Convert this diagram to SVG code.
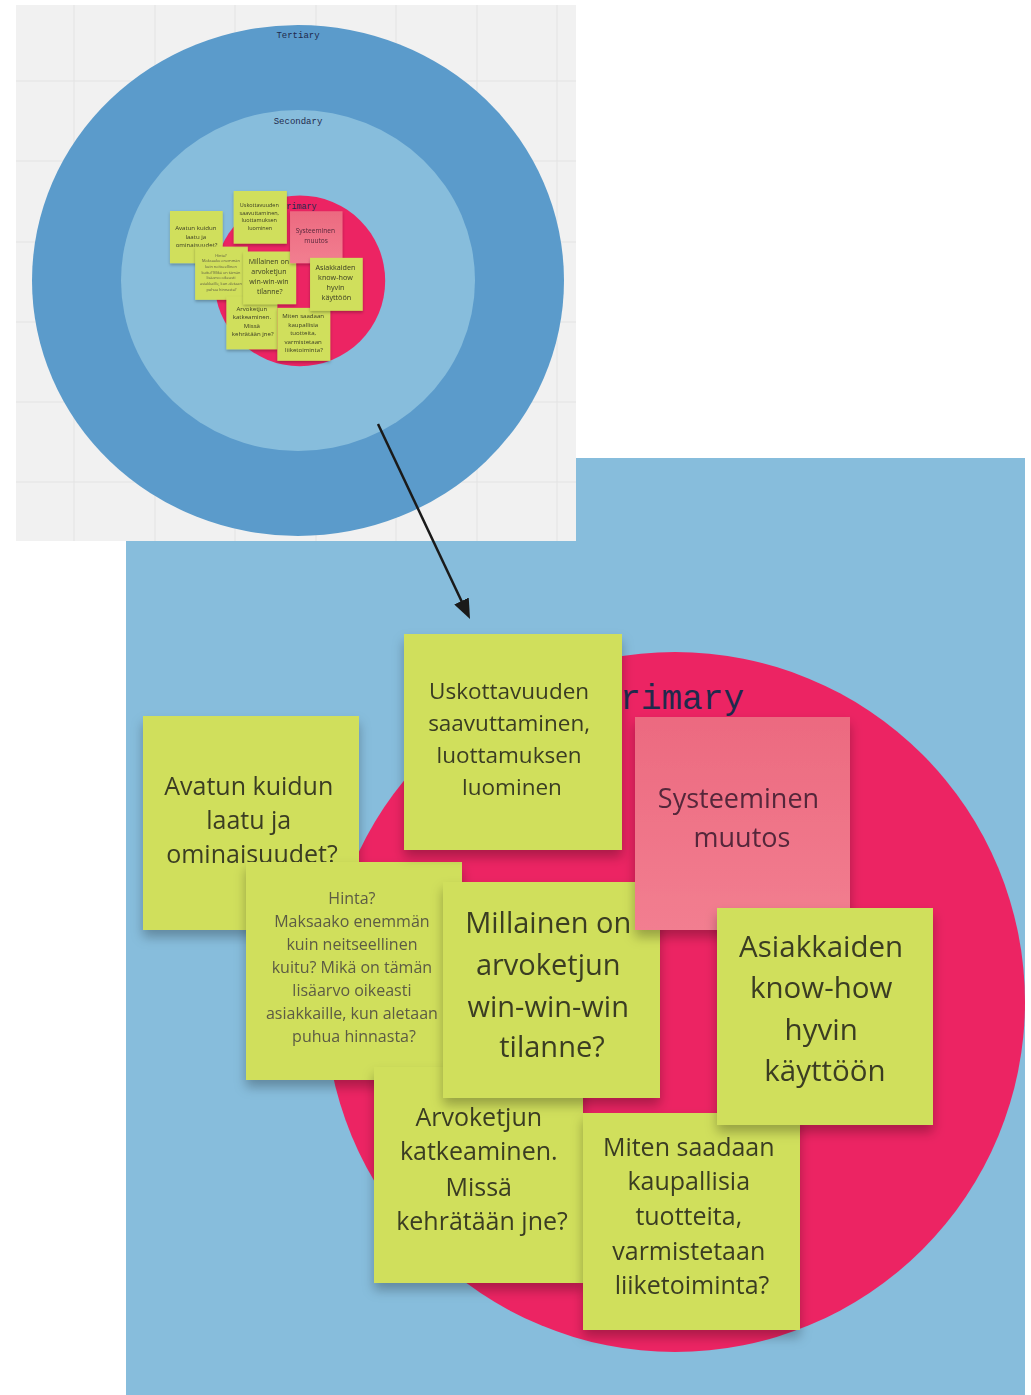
<svg xmlns="http://www.w3.org/2000/svg" xmlns:xlink="http://www.w3.org/1999/xlink" width="1031" height="1395" viewBox="0 0 1031 1395">
  <defs>
    <style>
      .board { fill: #f1f1f1; }
      .grid line { stroke: #e3e3e3; stroke-width: 1; }
      .ring-label { font-family: "Liberation Mono", "DejaVu Sans Mono", monospace; fill: #1f2a4c; }
      .note { filter: url(#noteShadow); }
      .lime { fill: #d0df5b; }
      .pink { fill: url(#pinkFill); }
      .ntext { font-family: "Open Sans", "Noto Sans", sans-serif; fill: #3a3c24; text-anchor: middle; }
      .ntext.soft { fill: #5c5b44; }
      .ntext.rose { fill: #55283a; }
      .connector { stroke: #1a1a1a; stroke-width: 2.5; fill: none; }
    </style>
    <linearGradient id="pinkFill" x1="0" y1="0" x2="0" y2="1">
      <stop offset="0" stop-color="#ec6a80"/>
      <stop offset="1" stop-color="#f27e90"/>
    </linearGradient>
    <filter id="noteShadow" x="-20%" y="-20%" width="140%" height="150%">
      <feDropShadow dx="0" dy="7" stdDeviation="6" flood-color="#000000" flood-opacity="0.28"/>
    </filter>
    <marker id="arrowHead" viewBox="0 0 20 16" refX="8" refY="8" markerWidth="20" markerHeight="16" markerUnits="userSpaceOnUse" orient="auto">
      <path d="M0,0 L20,8 L0,16 z" fill="#1a1a1a"/>
    </marker>
    <clipPath id="zoomClip">
      <rect x="126" y="458" width="899" height="937"/>
    </clipPath>
  </defs>

  <rect width="1031" height="1395" fill="#ffffff"/>

  <!-- Close-up of the primary ring -->
  <g id="closeup" clip-path="url(#zoomClip)">
    <rect x="126" y="458" width="899" height="937" fill="#87bddc"/>
    <g id="primary-cluster">
      <g id="ring-primary">
        <circle cx="675" cy="1002" r="350" fill="#ec2463"/>
        <text class="ring-label" x="599.3" y="709" font-size="34.5" fill="#2a2550">Primary</text>
      </g>

      <g id="note-avatun" class="note">
        <rect class="lime" x="143" y="716" width="216" height="214"/>
        <text class="ntext" font-size="25">
          <tspan x="252" y="795">Avatun kuidun</tspan>
          <tspan x="252" y="829">laatu ja</tspan>
          <tspan x="252" y="863">ominaisuudet?</tspan>
        </text>
      </g>

      <g id="note-hinta" class="note">
        <rect class="lime" x="246" y="862" width="216" height="218"/>
        <text class="ntext soft" font-size="16">
          <tspan x="354" y="904">Hinta?</tspan>
          <tspan x="354" y="927">Maksaako enemmän</tspan>
          <tspan x="354" y="950">kuin neitseellinen</tspan>
          <tspan x="354" y="973">kuitu? Mikä on tämän</tspan>
          <tspan x="354" y="996">lisäarvo oikeasti</tspan>
          <tspan x="354" y="1019">asiakkaille, kun aletaan</tspan>
          <tspan x="354" y="1042">puhua hinnasta?</tspan>
        </text>
      </g>

      <g id="note-arvoketjun" class="note">
        <rect class="lime" x="374" y="1067" width="209" height="216"/>
        <text class="ntext" font-size="25">
          <tspan x="482" y="1126">Arvoketjun</tspan>
          <tspan x="482" y="1160">katkeaminen.</tspan>
          <tspan x="482" y="1196">Missä</tspan>
          <tspan x="482" y="1230">kehrätään jne?</tspan>
        </text>
      </g>

      <g id="note-millainen" class="note">
        <rect class="lime" x="443" y="882" width="217" height="216"/>
        <text class="ntext" font-size="29">
          <tspan x="552" y="933">Millainen on</tspan>
          <tspan x="552" y="975">arvoketjun</tspan>
          <tspan x="552" y="1017">win-win-win</tspan>
          <tspan x="552" y="1057">tilanne?</tspan>
        </text>
      </g>

      <g id="note-uskottavuuden" class="note">
        <rect class="lime" x="404" y="634" width="218" height="216"/>
        <text class="ntext" font-size="22.5">
          <tspan x="512" y="699">Uskottavuuden</tspan>
          <tspan x="512" y="731">saavuttaminen,</tspan>
          <tspan x="512" y="763">luottamuksen</tspan>
          <tspan x="512" y="795">luominen</tspan>
        </text>
      </g>

      <g id="note-systeeminen" class="note">
        <rect class="pink" x="635" y="717" width="215" height="213"/>
        <text class="ntext rose" font-size="27">
          <tspan x="742" y="808">Systeeminen</tspan>
          <tspan x="742" y="847">muutos</tspan>
        </text>
      </g>

      <g id="note-miten" class="note">
        <rect class="lime" x="583" y="1113" width="217" height="217"/>
        <text class="ntext" font-size="25">
          <tspan x="692" y="1156">Miten saadaan</tspan>
          <tspan x="692" y="1190">kaupallisia</tspan>
          <tspan x="692" y="1225">tuotteita,</tspan>
          <tspan x="692" y="1260">varmistetaan</tspan>
          <tspan x="692" y="1294">liiketoiminta?</tspan>
        </text>
      </g>

      <g id="note-asiakkaiden" class="note">
        <rect class="lime" x="717" y="908" width="216" height="217"/>
        <text class="ntext" font-size="29.5">
          <tspan x="825" y="957">Asiakkaiden</tspan>
          <tspan x="825" y="998">know-how</tspan>
          <tspan x="825" y="1040">hyvin</tspan>
          <tspan x="825" y="1081">käyttöön</tspan>
        </text>
      </g>
    </g>
  </g>

  <!-- Overview board: stakeholder rings -->
  <g id="overview">
    <rect class="board" x="16" y="5" width="560" height="536"/>
    <g class="grid">
      <line x1="74" y1="5" x2="74" y2="541"/>
      <line x1="155" y1="5" x2="155" y2="541"/>
      <line x1="235" y1="5" x2="235" y2="541"/>
      <line x1="316" y1="5" x2="316" y2="541"/>
      <line x1="396" y1="5" x2="396" y2="541"/>
      <line x1="477" y1="5" x2="477" y2="541"/>
      <line x1="557" y1="5" x2="557" y2="541"/>
      <line x1="16" y1="81" x2="576" y2="81"/>
      <line x1="16" y1="161" x2="576" y2="161"/>
      <line x1="16" y1="242" x2="576" y2="242"/>
      <line x1="16" y1="322" x2="576" y2="322"/>
      <line x1="16" y1="402" x2="576" y2="402"/>
      <line x1="16" y1="482" x2="576" y2="482"/>
    </g>
    <g id="ring-tertiary">
      <ellipse cx="298" cy="280.5" rx="266" ry="255.5" fill="#5b9bcb"/>
      <text class="ring-label" x="298" y="38" font-size="9" text-anchor="middle">Tertiary</text>
    </g>
    <g id="ring-secondary">
      <ellipse cx="298" cy="280.5" rx="177" ry="170.5" fill="#87bddc"/>
      <text class="ring-label" x="298" y="124" font-size="9" text-anchor="middle">Secondary</text>
    </g>
    <!-- miniature of the primary cluster -->
    <use xlink:href="#primary-cluster" href="#primary-cluster" transform="translate(135.1,36.3) scale(0.244)"/>
  </g>

  <!-- Connectors -->
  <g id="connectors">
    <line class="connector" x1="378" y1="424" x2="464.9" y2="608.2" marker-end="url(#arrowHead)"/>
  </g>
</svg>
